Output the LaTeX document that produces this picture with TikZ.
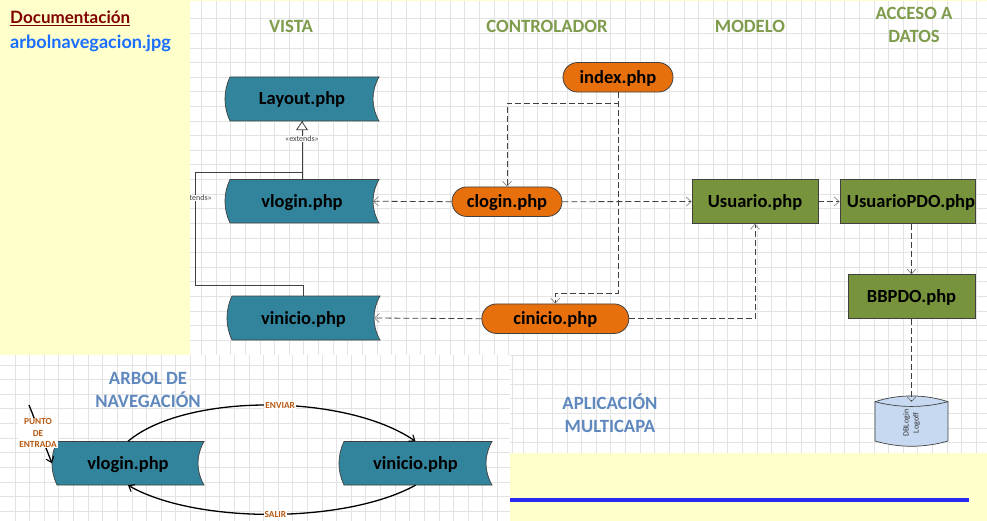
\documentclass[tikz,border=0pt]{standalone}
\usepackage{fontspec}
\setmainfont{Carlito}
\newfontfamily\docfont{Lato}
\usetikzlibrary{arrows.meta}
\definecolor{panel}{HTML}{FFFFCC}
\definecolor{teal1}{HTML}{31849B}
\definecolor{orange1}{HTML}{E8700C}
\definecolor{green1}{HTML}{77933C}
\definecolor{gridc}{HTML}{E3E3E3}
\definecolor{titleg}{HTML}{7F9C4C}
\definecolor{titleb}{HTML}{5F88BE}
\definecolor{lab}{HTML}{B85A14}
\definecolor{edgec}{HTML}{404040}
\definecolor{cyl}{HTML}{C6D9F1}
\definecolor{bluebar}{HTML}{2A2AF0}
\definecolor{filec}{HTML}{1A6EFF}
\tikzset{
  x=1pt,y=-1pt,
  boxtext/.style={font=\fontsize{18.5}{20}\selectfont\bfseries,text=black,inner sep=0pt,text height=12pt,text depth=0pt},
  pill/.style={boxtext,draw=edgec,line width=0.8pt,fill=orange1,rounded corners=14.7pt},
  greenbox/.style={boxtext,draw=edgec,line width=0.8pt,fill=green1},
  bannerfill/.style={draw=edgec,line width=0.7pt,fill=teal1},
  ttl/.style={font=\fontsize{18.7}{23}\selectfont\bfseries,align=center,inner sep=0pt},
  dep/.style={draw=edgec,line width=0.8pt,dash pattern=on 6pt off 3pt,-{Straight Barb[length=5pt,width=9pt,line width=0.5pt,color=edgec!80]}},
  nav/.style={draw=black,line width=1.3pt,-{Straight Barb[length=5pt,width=8pt,line width=1.1pt]}},
  navlab/.style={font=\fontsize{9.3}{11.3}\selectfont\bfseries,text=lab,fill=white,inner sep=1pt,align=center},
  ext/.style={draw=edgec,line width=0.8pt},
  extlab/.style={font=\fontsize{8}{9}\selectfont,text=edgec,fill=white,inner sep=0.5pt},
}
% name, left x, right x, top y, bottom y, text
\newcommand{\banner}[6]{%
  \path[bannerfill] (#2+5,#4) -- (#3,#4)
     .. controls (#3-8,#4+14) and (#3-8,#5-14) .. (#3,#5)
     -- (#2+5,#5)
     .. controls (#2-1.7,#5-14) and (#2-1.7,#4+14) .. (#2+5,#4) -- cycle;
  \node[boxtext,minimum width=#3-#2,minimum height=#5-#4] (#1) at ({(#2+#3)/2},{(#4+#5)/2}) {#6};
  \coordinate (#1 r) at (#3-6,{(#4+#5)/2});
  \coordinate (#1 l) at (#2,{(#4+#5)/2});
}
\begin{document}
\begin{tikzpicture}
\useasboundingbox (0,0) rectangle (987,521);
\fill[white] (0,0) rectangle (987,521);
% grids
\foreach \i in {0,...,54}{
  \pgfmathsetmacro\gx{201.5+14.62*\i}
  \draw[gridc,line width=0.8pt] (\gx,0) -- (\gx,453);
}
\foreach \i in {0,...,30}{
  \pgfmathsetmacro\gy{18.7+14.62*\i}
  \draw[gridc,line width=0.8pt] (190,\gy) -- (987,\gy);
}
\fill[white] (0,355) rectangle (510,521);
\foreach \i in {0,...,34}{
  \pgfmathsetmacro\gx{15+14.62*\i}
  \draw[gridc,line width=0.8pt] (\gx,355) -- (\gx,521);
}
\foreach \i in {0,...,10}{
  \pgfmathsetmacro\gy{365+14.62*\i}
  \draw[gridc,line width=0.8pt] (0,\gy) -- (510,\gy);
}
% extends connector behind yellow panel
\coordinate (c1) at (195,172.5);
\coordinate (c2) at (195,285);
\banner{layout}{225}{379}{77}{121}{Layout.php}
\banner{vlogin}{225}{379}{179.5}{223}{vlogin.php}
\banner{vinicio}{227}{380}{296}{340}{vinicio.php}
\draw[ext] (vlogin.north) -- (layout.south);
\draw[ext,-{Triangle[open,fill=white,length=9pt,width=12pt,line width=0.8pt]}] (302,140) -- (layout.south);
\node[extlab] at (302,139) {«extends»};
\draw[ext] (vinicio.north) |- (c2) -- (c1) -- (302,172.5);
\node[extlab] at (195,198) {«extends»};
% panels
\fill[panel] (0,0) rectangle (190,355);
\fill[panel] (190,0) rectangle (987,1);
\fill[panel] (510,453) rectangle (987,521);
\draw[draw=bluebar,line width=4pt] (510,500) -- (969,500);
\node[anchor=west,inner sep=0pt,text=red!50!black,font=\docfont\fontsize{17}{19}\selectfont\bfseries] (doc) at (10,18) {\underline{Documentación}};
\node[anchor=west,inner sep=0pt,text=filec,font=\docfont\fontsize{18.1}{20}\selectfont\bfseries] (file) at (10,43) {arbolnavegacion.jpg};
% titles
\node[ttl,text=titleg] (t1) at (291,26) {VISTA};
\node[ttl,text=titleg] (t2) at (547,26) {CONTROLADOR};
\node[ttl,text=titleg] (t3) at (750,26) {MODELO};
\node[ttl,text=titleg] (t4) at (914,25) {ACCESO A\\DATOS};
\node[ttl,text=titleb] (t5) at (148,390) {ARBOL DE\\NAVEGACIÓN};
\node[ttl,text=titleb] (t6) at (610,413) {APLICACIÓN\\MULTICAPA};
% controllers and model
\node[pill,minimum width=110pt,minimum height=29.5pt] (index) at (618,77.3) {index.php};
\node[pill,minimum width=110pt,minimum height=29.5pt] (clogin) at (507,201.7) {clogin.php};
\node[pill,minimum width=147pt,minimum height=29.5pt] (cinicio) at (555.3,318.7) {cinicio.php};
\node[greenbox,minimum width=126pt,minimum height=44pt] (usuario) at (755,201.5) {Usuario.php};
\node[greenbox,minimum width=135pt,minimum height=44pt] (updo) at (907.5,201.5) {\hspace*{7pt}UsuarioPDO.php};
\node[greenbox,minimum width=127pt,minimum height=44pt] (bbpdo) at (911.5,296.7) {BBPDO.php};
% cylinder
\path[draw=edgec,line width=0.7pt,fill=cyl] (875,401.7) .. controls (899,394) and (924,394) .. (948,401.7)
  -- (948,441) .. controls (924,448) and (899,448) .. (875,441) -- cycle;
\draw[edgec,line width=0.7pt] (875,401.7) .. controls (899,408) and (924,408) .. (948,401.7);
\node[inner sep=0pt,minimum width=73pt,minimum height=44pt] (db) at (911.5,421) {};
\node[rotate=90,inner sep=0pt,align=center,font=\fontsize{8}{10}\selectfont,text=black!80] (dbt) at (911.5,423) {DBLogin\\Logoff};
% dashed connectors
\coordinate (j1) at (618,103);
\coordinate (j2) at (618,293);
\draw[dep] (index.south) -- (j1) -| (clogin.north);
\draw[dep] (index.south) -- (j2) -| (cinicio.north);
\draw[dep] (clogin.west) -- (vlogin r);
\draw[dep] (cinicio.west) -- (vinicio r);
\draw[dep] (clogin.east) -- (usuario.west);
\draw[dep] (cinicio.east) -| (usuario.south);
\draw[dep] (usuario.east) -- (updo.west);
\draw[dep] (updo.south -| bbpdo.north) -- (bbpdo.north);
\draw[dep] (bbpdo.south) -- (911.5,402);
% navigation tree
\banner{nlogin}{52}{204}{441.5}{485}{vlogin.php}
\banner{ninicio}{339}{492}{441.5}{485}{vinicio.php}
\draw[nav] (nlogin.north) .. controls (185,393) and (345,393) .. node[navlab,pos=0.54] {ENVIAR} (ninicio.north);
\draw[nav] (ninicio.south) .. controls (345,524) and (195,524) .. node[navlab,pos=0.485] {SALIR} (nlogin.south);
\coordinate (start) at (29,405);
\draw[nav] (start) -- node[navlab,pos=0.48,xshift=-2pt] {PUNTO\\DE\\ENTRADA} (nlogin l);
\end{tikzpicture}
\end{document}
